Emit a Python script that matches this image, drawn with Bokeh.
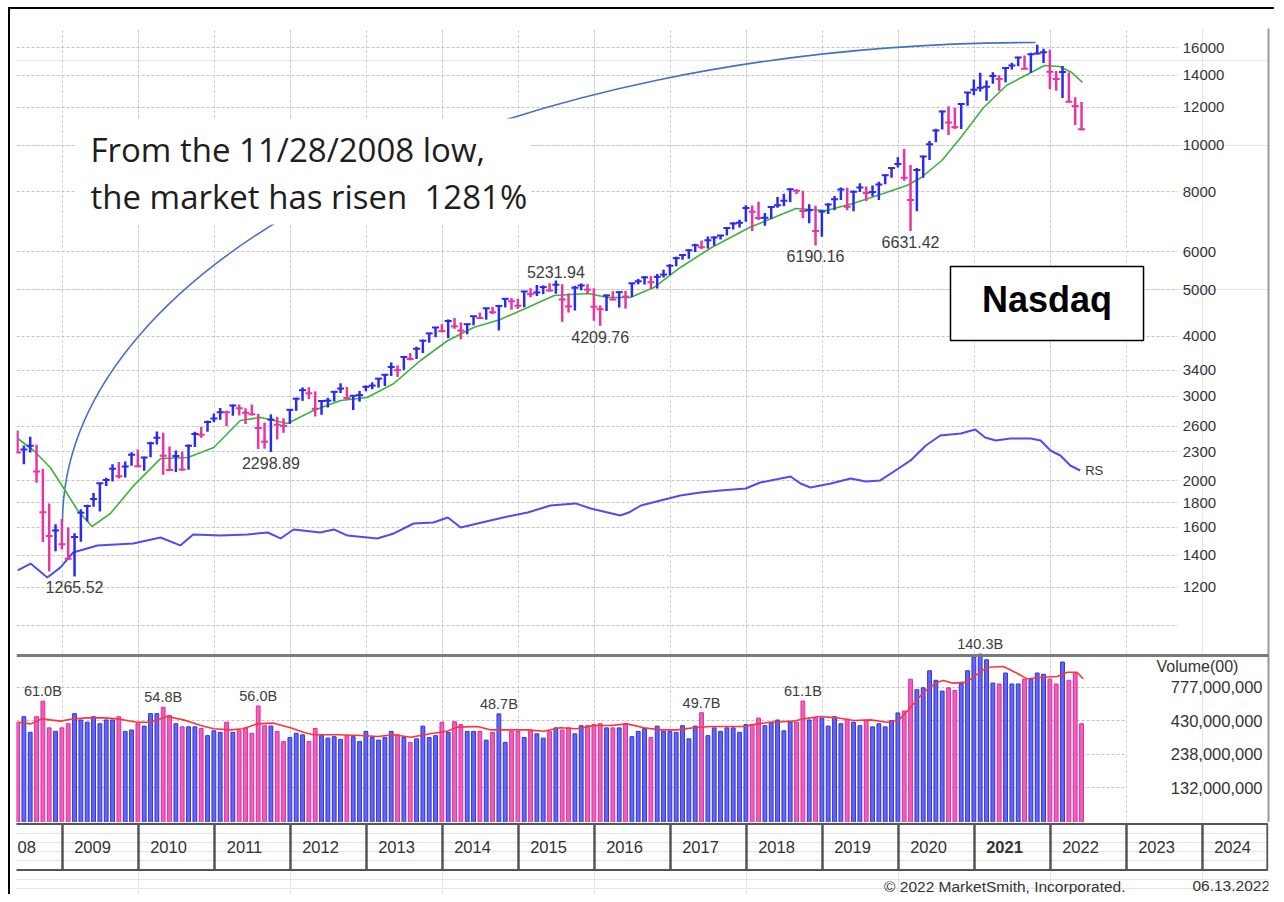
import pandas as pd
from bokeh.plotting import figure
from bokeh.layouts import column
from bokeh.models import (ColumnDataSource, Range1d, LogScale, Grid, FixedTicker, Span,
                          Label, BoxAnnotation, LinearAxis)
from bokeh.core.properties import value
from bokeh.embed import file_html
from bokeh.resources import INLINE

FONT = "Liberation Sans"

# ---------------- data (monthly, Jun 2008 .. Jun 2022) ----------------
months = pd.period_range("2008-06", "2022-06", freq="M")
prev_close = 2522.66  # May 2008 close (sets first bar colour)

high = [
    2549, 2370, 2473, 2381, 2117, 1796, 1626,
    1667, 1600, 1556, 1746, 1784, 1888, 1984, 2031, 2168, 2190, 2197, 2295,
    2327, 2246, 2415, 2535, 2520, 2360, 2314, 2300, 2382, 2533, 2592, 2672,
    2766, 2840, 2800, 2888, 2888, 2836, 2888, 2760, 2646, 2753, 2721, 2702,
    2825, 2983, 3134, 3135, 3075, 2950, 2980, 3082, 3196, 3140, 3020, 3080,
    3163, 3210, 3270, 3340, 3532, 3480, 3630, 3694, 3808, 3940, 4070, 4180,
    4246, 4342, 4371, 4280, 4247, 4409, 4486, 4580, 4610, 4641, 4810, 4814,
    4795, 4972, 5042, 5120, 5110, 5164, 5231.94, 5139, 4921, 5100, 5160, 5141,
    5040, 4644, 4890, 4970, 4960, 4980, 5180, 5272, 5342, 5343, 5400, 5512,
    5661, 5866, 5928, 6075, 6240, 6341, 6460, 6470, 6500, 6750, 6915, 7004,
    7506, 7495, 7637, 7233, 7451, 7806, 7933, 8133, 8110, 8048, 7546, 7486,
    7330, 7580, 7850, 8176, 8165, 8060, 8340, 8210, 8250, 8400, 8706, 9000,
    9451, 9838, 9110, 8980, 9520, 10222, 10840, 11830, 12074, 11990, 12230, 12900,
    13730, 14175, 13650, 14211, 14000, 14520, 14864, 15300, 15400, 15600, 16212, 15900,
    15833, 14300, 14647, 14200, 12600, 12320,
]
low = [
    2289, 2167, 2292, 1983, 1493, 1295, 1428,
    1440, 1373, 1265.52, 1494, 1647, 1768, 1727, 1952, 1994, 2024, 2033, 2151,
    2136, 2100, 2240, 2382, 2061, 2109, 2088, 2100, 2110, 2355, 2462, 2534,
    2650, 2682, 2603, 2734, 2737, 2630, 2738, 2331, 2335, 2298.89, 2441, 2520,
    2630, 2800, 2937, 2962, 2726, 2747, 2845, 2928, 3050, 2960, 2810, 2925,
    3076, 3105, 3130, 3154, 3310, 3294, 3407, 3567, 3590, 3693, 3884, 3985,
    4082, 3968, 4150, 3946, 4042, 4220, 4349, 4336, 4455, 4117, 4598, 4547,
    4563, 4602, 4825, 4856, 4900, 4960, 4910, 4292, 4487, 4530, 4992, 4899,
    4313, 4209.76, 4520, 4765, 4596, 4574, 4833, 5138, 5132, 5034, 5034, 5307,
    5372, 5600, 5781, 5805, 6000, 6081, 6104, 6178, 6371, 6490, 6680, 6749,
    6932, 6631, 6992, 6805, 7030, 7420, 7470, 7614, 7928, 7050, 6890, 6190.16,
    6457, 7200, 7330, 7700, 7330, 7292, 8000, 7662, 7830, 7700, 8300, 8570,
    9000, 8440, 6631.42, 7290, 8570, 9325, 10150, 10800, 10520, 10820, 10822, 12100,
    12730, 12950, 12400, 13450, 13000, 13550, 14400, 14620, 14450, 14180, 15490, 14860,
    13094, 13000, 12555, 12300, 11035, 10750,
]
close = [
    2293, 2326, 2368, 2092, 1721, 1536, 1577,
    1476, 1378, 1529, 1717, 1774, 1835, 1979, 2009, 2122, 2045, 2145, 2269,
    2147, 2238, 2398, 2461, 2257, 2109, 2255, 2114, 2369, 2507, 2498, 2653,
    2700, 2782, 2781, 2874, 2835, 2774, 2756, 2579, 2415, 2684, 2620, 2605,
    2814, 2967, 3092, 3046, 2827, 2935, 2940, 3067, 3116, 2977, 3010, 3020,
    3142, 3160, 3268, 3329, 3456, 3403, 3626, 3590, 3771, 3920, 4060, 4177,
    4104, 4308, 4199, 4115, 4243, 4408, 4370, 4580, 4493, 4631, 4792, 4736,
    4635, 4964, 4901, 4941, 5070, 4987, 5128, 4777, 4620, 5054, 5109, 5007,
    4614, 4558, 4870, 4775, 4948, 4843, 5162, 5213, 5312, 5189, 5324, 5383,
    5615, 5825, 5912, 6048, 6199, 6140, 6348, 6429, 6496, 6728, 6874, 6903,
    7411, 7273, 7063, 7066, 7442, 7510, 7672, 8110, 8046, 7306, 7331, 6635,
    7282, 7533, 7729, 8095, 7453, 8006, 8175, 7963, 7999, 8292, 8665, 8973,
    9151, 8567, 7700, 8890, 9490, 10059, 10745, 11775, 11168, 10912, 12199, 12888,
    13071, 13192, 13247, 13962, 13749, 14504, 14673, 15259, 14448, 15498, 15538, 15645,
    14240, 13751, 14221, 12335, 12081, 10809,
]
# monthly volume, billions of shares
volume_b = [
    42.0, 46.3, 35.1, 46.3, 61.0, 38.0, 35.7,
    38.0, 40.9, 48.9, 43.7, 42.0, 46.3, 40.9, 43.7, 43.7, 46.3, 35.7, 36.6,
    40.9, 39.2, 48.9, 48.9, 54.8, 47.4, 40.9, 38.7, 38.7, 38.7, 37.6, 33.1,
    36.1, 35.1, 42.0, 35.1, 36.1, 38.0, 34.5, 56.0, 39.5, 39.2, 35.7, 29.8,
    32.0, 34.5, 33.6, 29.8, 37.6, 33.1, 31.7, 32.5, 31.0, 33.1, 32.5, 29.8,
    35.7, 32.0, 30.6, 32.0, 35.7, 33.6, 32.0, 29.4, 31.3, 39.2, 32.0, 33.1,
    42.0, 35.1, 42.4, 40.3, 35.7, 35.7, 35.7, 30.6, 35.1, 48.7, 29.4, 35.7,
    35.7, 32.0, 36.6, 34.2, 31.7, 35.7, 38.0, 36.6, 38.0, 34.2, 39.5, 39.5,
    40.3, 40.9, 38.0, 38.0, 38.0, 41.1, 32.5, 35.7, 37.6, 32.0, 39.2, 35.7,
    35.7, 35.1, 39.5, 31.3, 39.2, 49.7, 33.1, 38.0, 35.7, 38.0, 38.0, 35.1,
    40.3, 40.3, 45.2, 39.5, 42.0, 43.7, 36.1, 42.0, 42.0, 61.1, 43.7, 45.2,
    45.2, 39.2, 46.3, 40.9, 44.3, 42.0, 39.5, 43.2, 38.7, 40.9, 38.7, 43.2,
    49.5, 51.2, 90.0, 74.7, 77.3, 104.5, 88.3, 72.9, 77.3, 73.7, 84.0, 104.5,
    133.0, 140.3, 127.0, 84.0, 82.7, 100.4, 82.7, 82.7, 90.0, 90.0, 100.4, 98.2,
    90.0, 82.7, 122.0, 88.3, 99.3, 40.9,
]

# green moving average of price
ma_year = [2008.41, 2008.62, 2008.84, 2009.01, 2009.20, 2009.39, 2009.63, 2009.93, 2010.29,
           2010.65, 2010.99, 2011.34, 2011.61, 2011.96, 2012.30, 2012.66, 2013.01, 2013.36,
           2013.71, 2014.07, 2014.41, 2014.76, 2015.12, 2015.47, 2015.92, 2016.17, 2016.47,
           2016.78, 2017.13, 2017.54, 2018.04, 2018.65, 2019.05, 2019.40, 2019.80, 2020.11,
           2020.30, 2020.57, 2020.82, 2021.12, 2021.42, 2021.72, 2021.92, 2022.12, 2022.28,
           2022.42]
ma_price = [2452, 2315, 2134, 1938, 1736, 1608, 1711, 1951, 2227,
            2238, 2349, 2673, 2713, 2636, 2804, 2943, 2985, 3193,
            3565, 3924, 4177, 4340, 4597, 4868, 4915, 4822, 4822,
            5059, 5570, 6131, 6748, 7392, 7321, 7572, 7943, 8252,
            8576, 9305, 10390, 11999, 13335, 14125, 14677, 14610, 14190,
            13530]

# relative strength line (plotted on the price scale)
rs_year = [2008.41, 2008.58, 2008.80, 2008.97, 2009.14, 2009.46, 2009.93, 2010.29, 2010.55,
           2010.72, 2011.08, 2011.43, 2011.70, 2011.87, 2012.04, 2012.39, 2012.57, 2012.75,
           2013.14, 2013.36, 2013.62, 2013.88, 2014.07, 2014.24, 2014.46, 2014.80, 2015.12,
           2015.42, 2015.75, 2015.95, 2016.34, 2016.45, 2016.61, 2016.87, 2017.13, 2017.39,
           2017.66, 2017.99, 2018.18, 2018.58, 2018.71, 2018.84, 2019.11, 2019.37, 2019.57,
           2019.76, 2019.96, 2020.16, 2020.36, 2020.55, 2020.82, 2021.01, 2021.14, 2021.28,
           2021.47, 2021.74, 2021.87, 2022.00, 2022.13, 2022.26, 2022.39]
rs_value = [1302, 1346, 1259, 1320, 1419, 1468, 1482, 1525, 1468,
            1547, 1539, 1547, 1562, 1518, 1585, 1562, 1585, 1539,
            1518, 1555, 1631, 1639, 1679, 1600, 1631, 1679, 1719,
            1778, 1796, 1753, 1695, 1719, 1778, 1821, 1866, 1892,
            1911, 1929, 1985, 2043, 1976, 1938, 1976, 2024, 1995,
            2005, 2103, 2207, 2371, 2488, 2512, 2560, 2464, 2429,
            2452, 2452, 2429, 2315, 2260, 2154, 2103]

# red moving average of volume (billions)
vma_year = [2008.42, 2008.58, 2008.73, 2008.97, 2009.15, 2009.33, 2009.54, 2009.72, 2009.98,
            2010.16, 2010.38, 2010.59, 2010.82, 2010.99, 2011.21, 2011.38, 2011.56, 2011.78,
            2012.00, 2012.17, 2012.30, 2012.62, 2012.92, 2013.15, 2013.36, 2013.58, 2013.84,
            2014.06, 2014.19, 2014.46, 2014.63, 2014.90, 2015.11, 2015.33, 2015.55, 2015.77,
            2015.99, 2016.21, 2016.43, 2016.65, 2016.87, 2017.09, 2017.30, 2017.53, 2017.75,
            2017.96, 2018.14, 2018.32, 2018.62, 2018.75, 2018.97, 2019.19, 2019.41, 2019.63,
            2019.85, 2020.00, 2020.16, 2020.33, 2020.51, 2020.59, 2020.72, 2020.90, 2021.04,
            2021.17, 2021.38, 2021.56, 2021.69, 2021.91, 2022.09, 2022.22, 2022.35, 2022.43]
vma_b = [42.0, 40.8, 44.6, 42.8, 44.6, 45.4, 45.4, 44.6, 42.0,
         42.0, 46.5, 43.8, 39.6, 37.4, 36.7, 37.4, 40.8, 41.3,
         38.1, 35.2, 33.6, 33.6, 33.2, 32.6, 33.6, 32.2, 34.2,
         35.8, 38.5, 38.9, 36.7, 36.7, 36.7, 35.8, 38.1, 37.4,
         39.6, 39.6, 40.8, 38.1, 36.7, 36.7, 38.1, 38.9, 38.9,
         38.9, 40.8, 42.0, 42.8, 44.6, 46.5, 45.4, 43.3, 43.8,
         42.0, 43.3, 54.8, 71.5, 85.4, 87.9, 83.9, 85.4, 99.0,
         111.3, 112.7, 100.1, 90.6, 93.2, 94.4, 101.9, 101.9, 90.6]

price_ticks = [16000, 14000, 12000, 10000, 8000, 6000, 5000, 4000, 3400, 3000,
               2600, 2300, 2000, 1800, 1600, 1400, 1200]
price_grid_extra = [1000]
vol_ticks = [777000000, 430000000, 238000000, 132000000]
years = list(range(2008, 2025))

price_notes = [("2009-03", "low"), ("2011-10", "low"), ("2015-07", "high"),
               ("2016-02", "low"), ("2018-12", "low"), ("2020-03", "low")]
vol_notes = ["2008-10", "2010-05", "2011-08", "2014-10", "2017-06", "2018-10", "2021-02"]

# ---------------- derived ----------------
xs = [m.year + (m.month - 1.1) / 12 for m in months]
prev = [prev_close] + close[:-1]
up = [c >= p for c, p in zip(close, prev)]
pcol = ["#2b2bef" if u else "#e8369e" for u in up]
vfill = ["#6666f0" if u else "#ef5fbf" for u in up]
vline = ["#3030e2" if u else "#e02c98" for u in up]
vol_units = [v * 1e7 for v in volume_b]  # units of 100 shares
idx = {str(m): i for i, m in enumerate(months)}

src = ColumnDataSource(dict(x=xs, high=high, low=low, close=close, pcol=pcol,
                            vol=vol_units, vfill=vfill, vline=vline))

X0, X1 = 2008.3947, 2024.8684
GRID_X_END = 2023.67
PRICE_RANGE = (388.6, 17527)
VOL_RANGE = (7.11e7, 9.115e13)

p = figure(width=1264, height=813, x_range=Range1d(X0, X1), y_range=Range1d(*PRICE_RANGE),
           y_axis_type="log", x_axis_location=None, y_axis_location=None,
           output_backend="svg", toolbar_location=None,
           min_border_left=6, min_border_right=6, min_border_top=19, min_border_bottom=0,
           outline_line_color=None, background_fill_color="white", border_fill_color="white")
p.extra_y_ranges = {"vol": Range1d(*VOL_RANGE)}
p.extra_y_scales = {"vol": LogScale()}

grid_style = dict(grid_line_color="#c4c4c4", grid_line_width=1)
p.add_layout(Grid(dimension=0, ticker=FixedTicker(ticks=list(range(2009, 2024))),
                  grid_line_dash="2 3", **grid_style))
p.add_layout(Grid(dimension=1, ticker=FixedTicker(ticks=price_ticks + price_grid_extra),
                  cross_bounds=(X0, GRID_X_END), grid_line_dash="3 2", **grid_style))
p.add_layout(Grid(dimension=1, y_range_name="vol", ticker=FixedTicker(ticks=vol_ticks),
                  cross_bounds=(X0, 2023.0), grid_line_dash="3 2", **grid_style))

ra = LinearAxis(ticker=FixedTicker(ticks=[]), major_tick_out=0, major_tick_in=0,
                minor_tick_out=0, minor_tick_in=0, major_label_standoff=0,
                major_label_text_font_size="0px", axis_line_color="#9a9a9a", axis_line_width=2)
p.add_layout(ra, "right")

# annotation arc
p.bezier(x0=[2009.0], y0=[1639], x1=[2021.803], y1=[16388],
         cx0=[2009.0], cy0=[5843], cx1=[2014.737], cy1=[16388],
         line_color="#4472c4", line_width=1.6)

# volume bars and average
p.vbar(x="x", top="vol", bottom=1e7, width=0.05, fill_color="vfill", line_color="vline",
       line_width=1, y_range_name="vol", source=src)
p.line(vma_year, [v * 1e7 for v in vma_b], line_color="#ff3434", line_width=1.6,
       y_range_name="vol")
p.add_layout(Span(location=1.37e9, dimension="width", y_range_name="vol",
                  line_color="#7a7a7a", line_width=3))

# RS line, moving average, price bars
p.line(rs_year, rs_value, line_color="#4d4df0", line_width=2)
p.line(ma_year, ma_price, line_color="#3cb43c", line_width=1.6)
p.segment(x0="x", y0="low", x1="x", y1="high", line_color="pcol", line_width=2.5, source=src)
p.scatter(x="x", y="close", marker="dash", size=7, line_color="pcol", line_width=2, source=src)

# price value notes
lo_n = [(xs[idx[m]], low[idx[m]]) for m, k in price_notes if k == "low"]
hi_n = [(xs[idx[m]], high[idx[m]]) for m, k in price_notes if k == "high"]
txt_style = dict(text_font=value(FONT), text_font_size="16px", text_color="#3d3d3d",
                 text_align="center")
p.text(x=[a for a, b in lo_n], y=[b for a, b in lo_n], text=[f"{b:.2f}" for a, b in lo_n],
       text_baseline="top", y_offset=5, **txt_style)
p.text(x=[a for a, b in hi_n], y=[b for a, b in hi_n], text=[f"{b:.2f}" for a, b in hi_n],
       text_baseline="bottom", y_offset=-3, **txt_style)

# volume value notes
p.text(x=[xs[idx[m]] for m in vol_notes], y=[vol_units[idx[m]] for m in vol_notes],
       text=[f"{volume_b[idx[m]]:.1f}B" for m in vol_notes], y_range_name="vol",
       text_baseline="bottom", y_offset=-2, text_font=value(FONT), text_font_size="14.5px",
       text_color="#3d3d3d", text_align="center")

# right-side scale texts
p.text(x=[2023.74] * len(price_ticks), y=price_ticks, text=[str(t) for t in price_ticks],
       text_font=value(FONT), text_font_size="15px", text_color="#333333",
       text_align="left", text_baseline="middle")
p.text(x=[2024.79] * len(vol_ticks), y=vol_ticks, text=[f"{t:,}" for t in vol_ticks],
       y_range_name="vol", text_font=value(FONT), text_font_size="16.5px",
       text_color="#333333", text_align="right", text_baseline="middle")
p.text(x=[2023.934], y=[1.127e9], text=["Volume(00)"], y_range_name="vol",
       text_font=value(FONT), text_font_size="16px", text_color="#333333",
       text_align="center", text_baseline="middle")
p.text(x=[rs_year[-1]], y=[rs_value[-1]], text=["RS"], x_offset=5,
       text_font=value(FONT), text_font_size="13px", text_color="#333333",
       text_align="left", text_baseline="middle")

# text box
p.add_layout(BoxAnnotation(left=2009.17, right=2015.16, bottom=6846, top=11381,
                           fill_color="white", fill_alpha=1.0, line_color=None))
p.add_layout(Label(x=2009.368, y=9809, text="From the 11/28/2008 low,",
                   text_font="Open Sans", text_font_size="33px", text_color="#1e1e1e",
                   text_baseline="alphabetic"))
p.add_layout(Label(x=2009.368, y=7830, text="the market has risen\u00a0 1281%",
                   text_font="Open Sans", text_font_size="33px", text_color="#1e1e1e",
                   text_baseline="alphabetic"))

# Nasdaq box
p.add_layout(BoxAnnotation(left=2020.684, right=2023.224, bottom=3924, top=5596,
                           fill_color="white", fill_alpha=1.0, line_color="black",
                           line_alpha=1.0, line_width=1.5))
p.add_layout(Label(x=2021.954, y=4777, text="Nasdaq", text_font=FONT, text_font_size="36px",
                   text_font_style="bold", text_color="black", text_align="center",
                   text_baseline="middle"))

# ---------------- year strip (with footer line below) ----------------
s = figure(width=1264, height=72, x_range=p.x_range, y_range=Range1d(-0.535, 1.03),
           x_axis_location=None, y_axis_location=None, output_backend="svg",
           toolbar_location=None, min_border_left=6, min_border_right=6,
           min_border_top=0, min_border_bottom=0, outline_line_color=None,
           background_fill_color="white", border_fill_color="white")
box_right = [min(y + 1, X1 - 0.015) for y in years]
s.quad(left=years, right=box_right, bottom=0, top=1, fill_color=None,
       line_color="#555555", line_width=2)
full_years = [y for y in years if y >= X0]
ysrc = ColumnDataSource(dict(x=[y + 0.395 for y in full_years], y=[0.5] * len(full_years),
                             t=[str(y) for y in full_years],
                             st=["bold" if y == 2021 else "normal" for y in full_years]))
s.text(x="x", y="y", text="t", text_font_style="st", source=ysrc, text_font=value(FONT),
       text_font_size="16.5px", text_color="#333333", text_align="center",
       text_baseline="middle")
# partial first year shows only its last two digits
s.text(x=[X0], y=[0.5], text=[str(years[0])[-2:]], x_offset=1, text_font=value(FONT),
       text_font_size="16.5px", text_color="#333333", text_align="left",
       text_baseline="middle")
s.text(x=[2022.987, X1 + 0.02], y=[-0.36, -0.36],
       text=["\u00a9 2022 MarketSmith, Incorporated.", "06.13.2022"],
       text_font=value(FONT), text_font_size="15.5px", text_color="#333333",
       text_align="right", text_baseline="middle")

layout = column(p, s, spacing=0,
                styles={"border-left": "2px solid black", "border-top": "2px solid black",
                        "margin-left": "8px", "margin-top": "7px"})

open("out.html", "w").write(file_html(layout, INLINE))
